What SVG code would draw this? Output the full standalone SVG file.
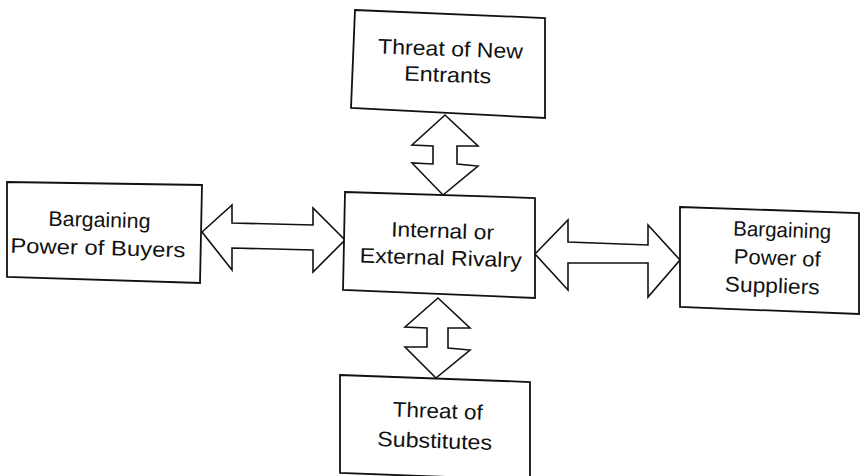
<svg xmlns="http://www.w3.org/2000/svg" width="863" height="476" viewBox="0 0 863 476">
<style>
.box{fill:#fff;stroke:#111;stroke-width:1.8;stroke-linejoin:miter}
.arr{fill:#fff;stroke:#111;stroke-width:1.6;stroke-linejoin:miter}
text{font-family:"Liberation Sans",Arial,sans-serif;font-size:21px;fill:#111;text-anchor:middle}
</style>
<rect width="863" height="476" fill="#fff"/>
<g id="connectors">
<polygon class="arr" points="445,115 478,146 457,146 457,164 478,166 443,195 412,163 433,164 433,146 412,145"/>
<polygon class="arr" points="202,232 232,205 232,223 313,225 313,208 345,240 313,272 313,250 232,248 232,270"/>
<polygon class="arr" points="535,254 568,220 568,242 648,245 648,225 680,260 648,297 648,263 568,263 568,290"/>
<polygon class="arr" points="438,298 470,328 448,328 448,348 470,350 436,378 405,347 427,347 427,328 405,327"/>
</g>
<g id="new-entrants">
<polygon class="box" points="355,10 545,18 545,118 351,108"/>
<g transform="rotate(2 450 65)">
<text x="450" y="56" textLength="145" lengthAdjust="spacingAndGlyphs">Threat of New</text>
<text x="448" y="82" textLength="87" lengthAdjust="spacingAndGlyphs">Entrants</text>
</g>
</g>
<g id="buyers">
<polygon class="box" points="7,182 202,185 200,283 7,277"/>
<g transform="rotate(1.5 99 240)">
<text x="99" y="227" textLength="102" lengthAdjust="spacingAndGlyphs">Bargaining</text>
<text x="98" y="255" textLength="175" lengthAdjust="spacingAndGlyphs">Power of Buyers</text>
</g>
</g>
<g id="rivalry">
<polygon class="box" points="345,192 535,198 535,298 343,290"/>
<g transform="rotate(1.8 441 250)">
<text x="442" y="238" textLength="103" lengthAdjust="spacingAndGlyphs">Internal or</text>
<text x="441" y="265" textLength="162" lengthAdjust="spacingAndGlyphs">External Rivalry</text>
</g>
</g>
<g id="suppliers">
<polygon class="box" points="680,207 859,213 859,314 680,307"/>
<g transform="rotate(2 777 265)">
<text x="781" y="237" textLength="98" lengthAdjust="spacingAndGlyphs">Bargaining</text>
<text x="777" y="265" textLength="87" lengthAdjust="spacingAndGlyphs">Power of</text>
<text x="773" y="293" textLength="95" lengthAdjust="spacingAndGlyphs">Suppliers</text>
</g>
</g>
<g id="substitutes">
<polygon class="box" points="340,375 530,382 530,480 340,473"/>
<g transform="rotate(2 436 432)">
<text x="437" y="418" textLength="90" lengthAdjust="spacingAndGlyphs">Threat of</text>
<text x="435" y="448" textLength="115" lengthAdjust="spacingAndGlyphs">Substitutes</text>
</g>
</g>
</svg>
